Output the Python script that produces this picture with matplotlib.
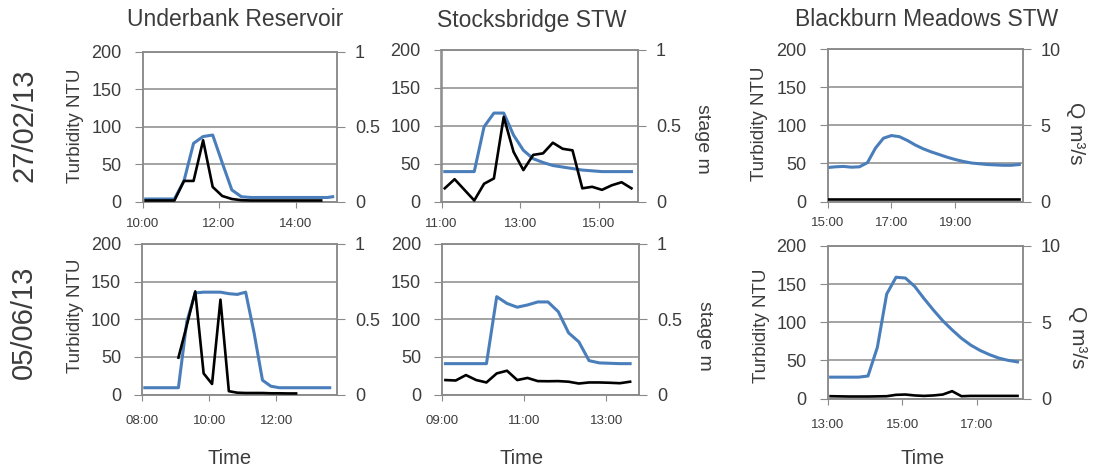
import matplotlib
matplotlib.use("Agg")
import matplotlib.pyplot as plt

# ─── Data ────────────────────────────────────────────────────────────────────
# Times as "HH:MM". Turbidity (NTU) on the left axis; stage (m) or
# discharge Q (m3/s) on the right axis.

# 27/02/13 - Underbank Reservoir
UB1_TIME = ["10:05", "10:20", "10:35", "10:50", "11:05", "11:20", "11:35",
            "11:50", "12:05", "12:20", "12:35", "12:50", "13:05", "13:20",
            "13:35", "13:50", "14:05", "14:20", "14:35", "14:50", "14:58"]
UB1_TURB = [4, 4, 4, 4, 28, 78, 87, 89, 52, 16, 7, 6, 6, 6, 6, 6, 6, 6, 6, 6, 7]
UB1_STAGE_TIME = ["10:05", "10:20", "10:35", "10:50", "11:05", "11:20", "11:35",
                  "11:50", "12:05", "12:20", "12:35", "12:50", "13:05", "13:20",
                  "13:35", "13:50", "14:05", "14:20", "14:40"]
UB1_STAGE = [0.01, 0.01, 0.01, 0.01, 0.14, 0.14, 0.41, 0.10, 0.04, 0.02,
             0.012, 0.01, 0.01, 0.01, 0.01, 0.01, 0.01, 0.01, 0.01]

# 27/02/13 - Stocksbridge STW
SB1_TIME = ["11:05", "11:20", "11:35", "11:50", "12:05", "12:20", "12:35",
            "12:50", "13:05", "13:20", "13:35", "13:50", "14:05", "14:20",
            "14:35", "14:50", "15:05", "15:20", "15:35", "15:50"]
SB1_TURB = [40, 40, 40, 40, 99, 117, 117, 88, 68, 57, 52, 48, 46, 44, 42, 41,
            40, 40, 40, 40]
SB1_STAGE = [0.09, 0.15, 0.08, 0.01, 0.12, 0.155, 0.56, 0.33, 0.21, 0.31,
             0.32, 0.39, 0.35, 0.34, 0.09, 0.10, 0.08, 0.11, 0.13, 0.09]

# 27/02/13 - Blackburn Meadows STW
BM1_TIME = ["15:00", "15:15", "15:30", "15:45", "16:00", "16:15", "16:30",
            "16:45", "17:00", "17:15", "17:30", "17:45", "18:00", "18:15",
            "18:30", "18:45", "19:00", "19:15", "19:30", "19:45", "20:00",
            "20:15", "20:30", "20:45", "21:00"]
BM1_TURB = [44.5, 45.5, 46, 45, 45.5, 51, 70, 83, 86.5, 85, 80, 74, 69, 65,
            61.5, 58, 55, 52.5, 50.5, 49.5, 48.5, 48, 47.5, 47.5, 48.5]
BM1_Q = [0.18, 0.18, 0.18, 0.18, 0.18, 0.18, 0.18, 0.18, 0.18, 0.18, 0.18,
         0.18, 0.18, 0.18, 0.18, 0.18, 0.18, 0.18, 0.18, 0.18, 0.18, 0.18,
         0.18, 0.18, 0.18]

# 05/06/13 - Underbank Reservoir
UB2_TIME = ["08:05", "08:20", "08:35", "08:50", "09:05", "09:20", "09:35",
            "09:50", "10:05", "10:20", "10:35", "10:50", "11:05", "11:20",
            "11:35", "11:50", "12:05", "12:20", "12:35", "12:50", "13:05",
            "13:20", "13:35"]
UB2_TURB = [9, 9, 9, 9, 9, 97, 135, 136, 136, 136, 134, 133, 136, 82, 19, 11,
            9, 9, 9, 9, 9, 9, 9]
UB2_STAGE_TIME = ["09:05", "09:20", "09:35", "09:50", "10:05", "10:20", "10:35",
                  "10:50", "11:05", "11:20", "11:35", "11:50", "12:05", "12:20",
                  "12:35"]
UB2_STAGE = [0.245, 0.46, 0.685, 0.14, 0.07, 0.63, 0.022, 0.012, 0.01, 0.01,
             0.01, 0.008, 0.008, 0.007, 0.007]

# 05/06/13 - Stocksbridge STW
SB2_TIME = ["09:05", "09:20", "09:35", "09:50", "10:05", "10:20", "10:35",
            "10:50", "11:05", "11:20", "11:35", "11:50", "12:05", "12:20",
            "12:35", "12:50", "13:05", "13:20", "13:35"]
SB2_TURB = [41, 41, 41, 41, 41, 130, 121, 116, 119, 123, 123, 110, 82, 70,
            45, 42, 41.5, 41, 41]
SB2_STAGE = [0.096, 0.093, 0.129, 0.096, 0.08, 0.14, 0.158, 0.096, 0.11,
             0.089, 0.088, 0.089, 0.085, 0.073, 0.08, 0.08, 0.078, 0.075, 0.085]

# 05/06/13 - Blackburn Meadows STW
BM2_TIME = ["13:05", "13:20", "13:35", "13:50", "14:05", "14:20", "14:35",
            "14:50", "15:05", "15:20", "15:35", "15:50", "16:05", "16:20",
            "16:35", "16:50", "17:05", "17:20", "17:35", "17:50", "18:05"]
BM2_TURB = [28, 28, 28, 28, 29.5, 67, 137, 159, 158, 147, 131, 116, 102, 90,
            79, 70, 63, 57.5, 53, 50, 48]
BM2_Q = [0.15, 0.14, 0.13, 0.13, 0.13, 0.14, 0.15, 0.24, 0.26, 0.2, 0.17,
         0.2, 0.26, 0.48, 0.15, 0.17, 0.17, 0.17, 0.17, 0.17, 0.17]

SITES = ["Underbank Reservoir", "Stocksbridge STW", "Blackburn Meadows STW"]
DATES = ["27/02/13", "05/06/13"]


def hours(stamps):
    return [int(s[:2]) + int(s[3:]) / 60 for s in stamps]


# ─── Style ───────────────────────────────────────────────────────────────────

BLUE = "#4a7ebb"
GRID = "#8a8a8a"
TEXT = "#3c3c3c"

plt.rcParams["font.family"] = ["Liberation Sans", "DejaVu Sans"]
plt.rcParams["text.color"] = TEXT

W, H = 1096, 471
fig = plt.figure(figsize=(W / 100, H / 100), dpi=100, facecolor="white")


def box(left, top, right, bottom):
    return [left / W, 1 - bottom / H, (right - left) / W, (bottom - top) / H]


panels = [
    # position, x range, x ticks, turbidity, right series, right axis max
    dict(pos=box(142.5, 51.5, 337, 202), xlim=(10, 15.08), xt=[10, 12, 14],
         t=UB1_TIME, turb=UB1_TURB, t2=UB1_STAGE_TIME, y2=UB1_STAGE, y2max=1,
         xpad=7.5),
    dict(pos=box(441.5, 50, 638, 202), xlim=(11, 16), xt=[11, 13, 15],
         t=SB1_TIME, turb=SB1_TURB, t2=SB1_TIME, y2=SB1_STAGE, y2max=1,
         xpad=7.5),
    dict(pos=box(827.5, 49, 1022.5, 201.5), xlim=(15, 21.1), xt=[15, 17, 19],
         t=BM1_TIME, turb=BM1_TURB, t2=BM1_TIME, y2=BM1_Q, y2max=10,
         xpad=7.5),
    dict(pos=box(142, 244, 337, 394.5), xlim=(8, 13.8), xt=[8, 10, 12],
         t=UB2_TIME, turb=UB2_TURB, t2=UB2_STAGE_TIME, y2=UB2_STAGE, y2max=1,
         xpad=11),
    dict(pos=box(442, 244, 639, 394.5), xlim=(9, 13.8), xt=[9, 11, 13],
         t=SB2_TIME, turb=SB2_TURB, t2=SB2_TIME, y2=SB2_STAGE, y2max=1,
         xpad=11),
    dict(pos=box(827.5, 246, 1023, 398.5), xlim=(13, 18.23), xt=[13, 15, 17],
         t=BM2_TIME, turb=BM2_TURB, t2=BM2_TIME, y2=BM2_Q, y2max=10,
         xpad=11),
]

for p in panels:
    ax = fig.add_axes(p["pos"])
    ax.set_xlim(*p["xlim"])
    ax.set_ylim(0, 200)
    ax.set_yticks([0, 50, 100, 150, 200])
    ax.grid(True, axis="y", color=GRID, lw=1.1)
    ax.set_axisbelow(True)
    for side in ("left", "right", "bottom", "top"):
        ax.spines[side].set_color(GRID)
        ax.spines[side].set_linewidth(1.1)
    ax.set_xticks(p["xt"])
    ax.set_xticklabels([f"{h:02d}:00" for h in p["xt"]], fontsize=9.5,
                       color=TEXT)
    ax.tick_params(axis="x", length=4, color=GRID, pad=p["xpad"])
    ax.tick_params(axis="y", length=6, color=GRID, labelsize=13,
                   labelcolor=TEXT, pad=9)
    ax.plot(hours(p["t"]), p["turb"], color=BLUE, lw=2.2,
            solid_joinstyle="round", zorder=3)

    ax2 = ax.twinx()
    ax2.set_ylim(0, p["y2max"])
    ax2.set_xlim(*p["xlim"])
    ax2.set_yticks([0, p["y2max"] / 2, p["y2max"]])
    if p["y2max"] == 1:
        ax2.set_yticklabels(["0", "0.5", "1"])
    else:
        ax2.set_yticklabels(["0", "5", "10"])
    for side in ("left", "right", "bottom", "top"):
        ax2.spines[side].set_color(GRID)
        ax2.spines[side].set_linewidth(1.1)
    ax2.tick_params(axis="y", length=6, color=GRID, labelsize=13,
                    labelcolor=TEXT, pad=7)
    ax2.plot(hours(p["t2"]), p["y2"], color="black", lw=1.9,
             solid_joinstyle="round", zorder=4)

# ─── Labels ──────────────────────────────────────────────────────────────────


def label(x, y, s, **kw):
    fig.text(x / W, 1 - y / H, s, ha="center", va="center", **kw)


for x, site in zip([235, 532, 927], SITES):
    label(x, 20, site, fontsize=16.5)

label(24, 125, DATES[0], fontsize=21, rotation=90)
label(24, 322, DATES[1], fontsize=21, rotation=90)

for x, y in [(76, 126), (760, 124), (76, 316), (761, 326)]:
    label(x, y, "Turbidity NTU", fontsize=13.5, rotation=90)

for x, y in [(703, 139), (705, 336)]:
    label(x, y, "stage m", fontsize=14, rotation=270)

for x, y in [(1075, 133), (1077, 337)]:
    label(x, y, "Q m³/s", fontsize=15, rotation=270)

for x in [230, 522, 923]:
    label(x, 458, "Time", fontsize=14.5)

fig.savefig("out.png", dpi=100, facecolor="white")
